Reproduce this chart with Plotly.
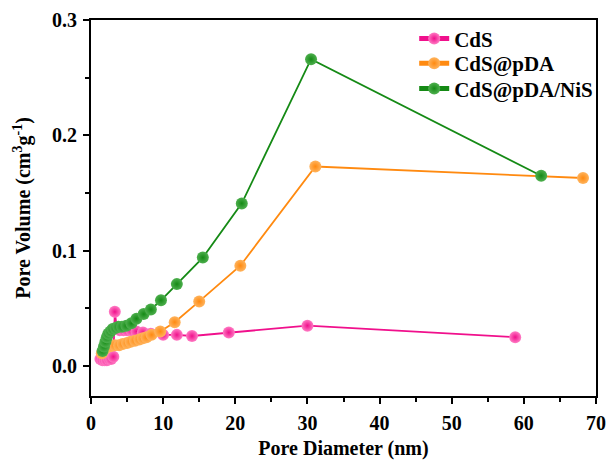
import plotly.graph_objects as go

# CdS
cds_x = [1.3, 1.6, 1.9, 2.2, 2.5, 2.8, 3.1, 3.3, 3.6, 4.0, 4.5, 5.0, 5.6, 6.3, 7.2, 8.3, 10.0, 11.9, 14.0, 19.1, 30.0, 58.8]
cds_y = [0.006, 0.005, 0.005, 0.005, 0.006, 0.006, 0.008, 0.047, 0.032, 0.031, 0.031, 0.031, 0.031, 0.030, 0.029, 0.028, 0.027, 0.027, 0.026, 0.029, 0.035, 0.025]

# CdS@pDA
pda_x = [1.5, 1.8, 2.1, 2.5, 2.9, 3.3, 3.9, 4.4, 5.0, 5.5, 6.1, 6.7, 7.2, 7.7, 8.4, 9.6, 11.6, 15.0, 20.7, 31.1, 68.2]
pda_y = [0.011, 0.014, 0.016, 0.017, 0.0175, 0.018, 0.018, 0.019, 0.020, 0.021, 0.022, 0.023, 0.024, 0.025, 0.027, 0.030, 0.038, 0.056, 0.087, 0.173, 0.163]

# CdS@pDA/NiS
nis_x = [1.6, 1.8, 2.0, 2.2, 2.4, 2.7, 3.0, 3.4, 3.8, 4.3, 4.9, 5.6, 6.3, 7.3, 8.3, 9.7, 11.9, 15.5, 20.9, 30.5, 62.4]
nis_y = [0.013, 0.017, 0.021, 0.025, 0.028, 0.030, 0.032, 0.033, 0.034, 0.034, 0.035, 0.037, 0.041, 0.045, 0.049, 0.057, 0.071, 0.094, 0.141, 0.266, 0.165]

names = ["CdS", "CdS@pDA", "CdS@pDA/NiS"]
colors = ["#F0108C", "#FF8A10", "#158A15"]
light = ["#FF7CC4", "#FFB45E", "#4FB04F"]
legend_ids = ["legend", "legend2", "legend3"]
legend_y = [0.95, 0.884, 0.817]

font_family = "Liberation Serif, Times New Roman, serif"

fig = go.Figure()
for xs, ys, name, c, lc, lg in zip([cds_x, pda_x, nis_x], [cds_y, pda_y, nis_y], names, colors, light, legend_ids):
    fig.add_trace(go.Scatter(
        x=xs, y=ys, name=name, mode="lines+markers", legend=lg,
        line=dict(color=c, width=1.8),
        marker=dict(size=12, color=lc, gradient=dict(type="radial", color=c),
                    line=dict(width=0)),
    ))

legend_common = dict(xanchor="left", yanchor="middle", bgcolor="rgba(0,0,0,0)",
                     font=dict(size=21, family=font_family, weight="bold"),
                     itemsizing="constant", borderwidth=0)

fig.update_layout(
    width=608, height=476,
    margin=dict(l=91, r=12, t=20, b=80, autoexpand=False),
    paper_bgcolor="white", plot_bgcolor="white",
    font=dict(family=font_family, size=18, color="black", weight="bold"),
    showlegend=True,
    legend=dict(x=0.64, y=legend_y[0], **legend_common),
    legend2=dict(x=0.64, y=legend_y[1], **legend_common),
    legend3=dict(x=0.64, y=legend_y[2], **legend_common),
)

fig.update_xaxes(
    range=[0, 70], dtick=10, tick0=0,
    showline=True, linecolor="black", linewidth=2, mirror=True,
    ticks="outside", ticklen=6, tickwidth=1.5, tickcolor="black",
    minor=dict(ticks="outside", ticklen=4, dtick=5, tickcolor="black", tickwidth=1.5),
    showgrid=False, zeroline=False,
    tickfont=dict(size=20, family=font_family, weight="bold"),
    ticklabelstandoff=2,
    title=dict(text="Pore Diameter (nm)", font=dict(size=20, family=font_family, weight="bold"), standoff=8),
)
fig.update_yaxes(
    range=[-0.026, 0.3], dtick=0.1, tick0=0, tickformat=".1f",
    showline=True, linecolor="black", linewidth=2, mirror=True,
    ticks="outside", ticklen=6, tickwidth=1.5, tickcolor="black",
    minor=dict(ticks="outside", ticklen=4, dtick=0.05, tickcolor="black", tickwidth=1.5),
    showgrid=False, zeroline=False,
    tickfont=dict(size=20, family=font_family, weight="bold"),
    ticklabelstandoff=2,
    title=dict(text="Pore Volume (cm<sup>3</sup>g<sup>-1</sup>)", font=dict(size=20, family=font_family, weight="bold"), standoff=16),
)

fig.write_html("out.html")
